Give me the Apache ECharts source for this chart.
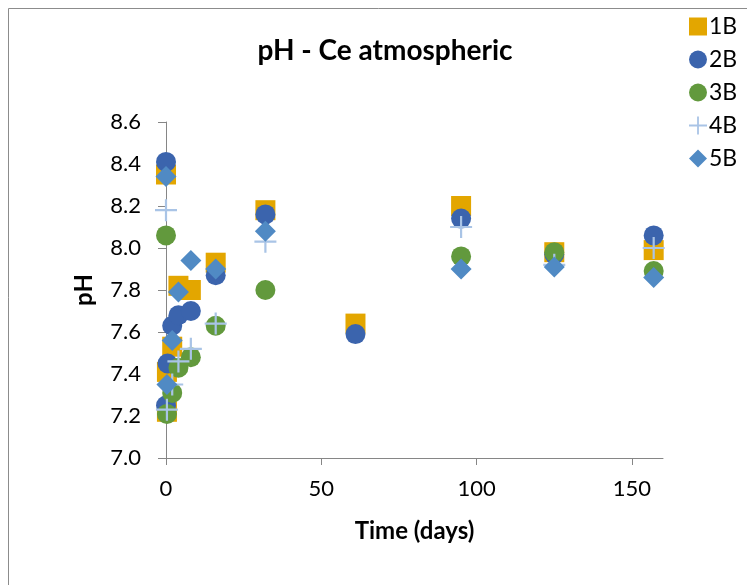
<!DOCTYPE html>
<html>
<head>
<meta charset="utf-8">
<script src="https://cdn.jsdelivr.net/npm/echarts@6/dist/echarts.min.js"></script>
<style>
  html, body { margin: 0; padding: 0; background: #fff; }
  #chart { width: 747px; height: 585px; }
</style>
</head>
<body>
<div id="chart"></div>
<script>
// Sample names and their sampling times (days) with measured pH
const seriesNames = ['1B', '2B', '3B', '4B', '5B'];

const days1B = [0, 0.3, 0.3, 2, 4, 8, 16, 32, 61, 95, 125, 157];
const ph1B   = [8.35, 7.22, 7.41, 7.53, 7.82, 7.80, 7.93, 8.18, 7.64, 8.20, 7.98, 7.99];

const days2B = [0, 0, 0.5, 2, 4, 8, 16, 32, 61, 95, 125, 157];
const ph2B   = [8.41, 7.25, 7.45, 7.63, 7.68, 7.70, 7.87, 8.16, 7.59, 8.14, 7.97, 8.06];

const days3B = [0, 0.3, 2, 4, 8, 16, 32, 95, 125, 157];
const ph3B   = [8.06, 7.21, 7.31, 7.43, 7.48, 7.63, 7.80, 7.96, 7.98, 7.89];

const days4B = [0, 0.3, 2, 4, 8, 16, 32, 95, 125, 157];
const ph4B   = [8.18, 7.23, 7.35, 7.46, 7.52, 7.64, 8.03, 8.10, 7.92, 8.00];

const days5B = [0, 0.3, 2, 4, 8, 16, 32, 95, 125, 157];
const ph5B   = [8.34, 7.35, 7.56, 7.79, 7.94, 7.90, 8.08, 7.90, 7.91, 7.86];

const xTickValues = [0, 50, 100, 150];

function pairs(xs, ys) { return xs.map((x, i) => [x, ys[i]]); }

const plusPath = 'path://M9,0h2v9h9v2h-9v9h-2v-9h-9v-2h9z';
const fontFamily = 'Lato, "Open Sans", sans-serif';

const chart = echarts.init(document.getElementById('chart'), null, { renderer: 'canvas' });

const seriesDefs = [
  { name: '1B', data: pairs(days1B, ph1B), symbol: 'rect',    symbolSize: 20, color: '#E3A600' },
  { name: '2B', data: pairs(days2B, ph2B), symbol: 'circle',  symbolSize: 20, color: '#3B64AD' },
  { name: '3B', data: pairs(days3B, ph3B), symbol: 'circle',  symbolSize: 20, color: '#62993D' },
  { name: '4B', data: pairs(days4B, ph4B), symbol: plusPath,  symbolSize: 22, color: '#A9C4E6' },
  { name: '5B', data: pairs(days5B, ph5B), symbol: 'diamond', symbolSize: 21, color: '#508AC4' }
];

chart.setOption({
  animation: false,
  backgroundColor: '#ffffff',
  textStyle: { fontFamily: fontFamily },
  graphic: [{
    type: 'rect',
    shape: { x: 8.5, y: 8.5, width: 800, height: 700 },
    style: { fill: 'none', stroke: '#8C8C8C', lineWidth: 1 },
    silent: true
  }],
  title: {
    text: 'pH - Ce atmospheric',
    left: 380,
    top: 32,
    textAlign: 'center',
    textStyle: { fontFamily: fontFamily, fontWeight: 'bold', fontSize: 28, color: '#000' }
  },
  legend: {
    orient: 'vertical',
    left: 684,
    top: 10,
    itemWidth: 18,
    itemHeight: 18,
    itemGap: 10,
    textStyle: { fontFamily: fontFamily, fontSize: 23, color: '#000', padding: [0, 0, 0, -3] },
    data: seriesNames
  },
  grid: { left: 166, top: 122, right: 84, bottom: 127, containLabel: false },
  xAxis: {
    type: 'value',
    min: 0,
    max: 160,
    interval: 50,
    name: 'Time (days)',
    nameLocation: 'middle',
    nameGap: 61,
    nameTextStyle: { fontFamily: fontFamily, fontWeight: 'bold', fontSize: 24, color: '#000' },
    splitLine: { show: false },
    axisLine: { show: true, lineStyle: { color: '#868686', width: 1 } },
    axisTick: { show: true, length: 7, lineStyle: { color: '#868686' }, customValues: xTickValues },
    axisLabel: { fontSize: 22, color: '#000', margin: 20, customValues: xTickValues }
  },
  yAxis: {
    type: 'value',
    min: 7.0,
    max: 8.6,
    interval: 0.2,
    name: 'pH',
    nameLocation: 'middle',
    nameGap: 70,
    nameTextStyle: { fontFamily: fontFamily, fontWeight: 'bold', fontSize: 24, color: '#000' },
    splitLine: { show: false },
    axisLine: { show: true, lineStyle: { color: '#868686', width: 1 } },
    axisTick: { show: true, length: 8, lineStyle: { color: '#868686' } },
    axisLabel: { fontSize: 22, color: '#000', margin: 25, formatter: v => v.toFixed(1) }
  },
  series: seriesDefs.map(s => ({
    name: s.name,
    type: 'scatter',
    data: s.data,
    symbol: s.symbol,
    symbolSize: s.symbolSize,
    itemStyle: { color: s.color, opacity: 1 },
    emphasis: { disabled: true }
  }))
});
</script>
</body>
</html>
